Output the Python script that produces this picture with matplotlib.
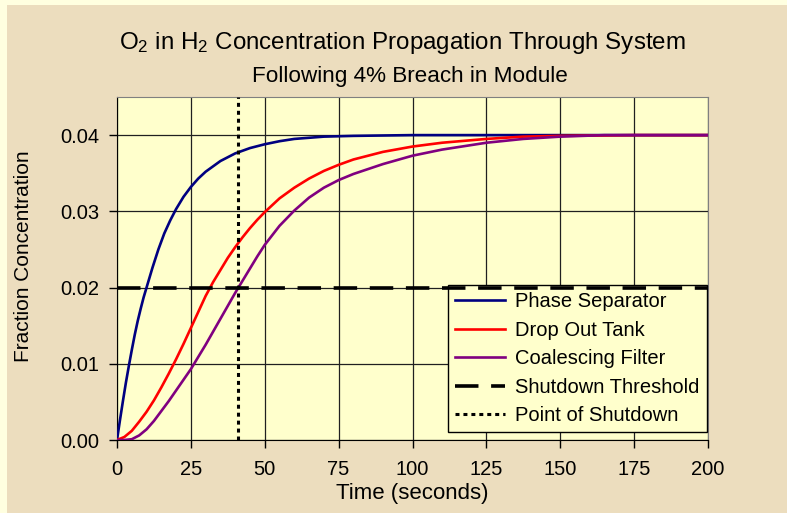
import matplotlib
matplotlib.use("Agg")
import matplotlib.pyplot as plt
from matplotlib.patches import Rectangle

plt.rcParams['font.family'] = ['Liberation Sans', 'DejaVu Sans']
plt.rcParams['mathtext.fontset'] = 'custom'
plt.rcParams['mathtext.rm'] = 'Liberation Sans'
plt.rcParams['mathtext.it'] = 'Liberation Sans'

# values
t_sep = [0, 1, 2, 3, 4, 5, 6, 7, 8, 9, 10, 12, 14, 16, 18, 20, 22.5, 25, 27.5, 30, 35, 40,
         45, 50, 55, 60, 70, 80, 100, 200]
phase_sep = [0, 0.0026, 0.0051, 0.0075, 0.0097, 0.0118, 0.0138, 0.0156, 0.0172, 0.0187, 0.0200,
             0.0226, 0.0250, 0.0271, 0.0288, 0.0303, 0.0319, 0.0332, 0.0343, 0.0352, 0.0366,
             0.0376, 0.0383, 0.0388, 0.0392, 0.0395, 0.0398, 0.0399, 0.0400, 0.0400]

t_tank = [0, 2.5, 5, 7.5, 10, 12.5, 15, 17.5, 20, 22.5, 25, 27.5, 30, 32.5, 35, 37.5, 40, 42.5,
          45, 47.5, 50, 55, 60, 65, 70, 75, 80, 90, 100, 110, 125, 137.5, 150, 175, 200]
drop_out_tank = [0, 0.0004, 0.0012, 0.0024, 0.0037, 0.0052, 0.0069, 0.0087, 0.0106, 0.0126,
                 0.0147, 0.0168, 0.0189, 0.0207, 0.0223, 0.0239, 0.0253, 0.0266, 0.0278, 0.0289,
                 0.0299, 0.0317, 0.0331, 0.0343, 0.0353, 0.0361, 0.0368, 0.0378, 0.0385, 0.0390,
                 0.0395, 0.0398, 0.0399, 0.0400, 0.0400]

t_filter = [0, 2.5, 5, 7.5, 10, 12.5, 15, 17.5, 20, 22.5, 25, 27.5, 30, 32.5, 35, 37.5, 40,
            42.5, 45, 47.5, 50, 55, 60, 65, 70, 75, 80, 90, 100, 110, 125, 137.5, 150, 165, 200]
coalescing = [0, 0, 0.0001, 0.0006, 0.0014, 0.0025, 0.0038, 0.0051, 0.0065, 0.0079, 0.0093,
              0.0109, 0.0125, 0.0142, 0.0159, 0.0176, 0.0193, 0.0209, 0.0225, 0.0241, 0.0256,
              0.0281, 0.0301, 0.0318, 0.0331, 0.0341, 0.0349, 0.0362, 0.0373, 0.0381, 0.0390,
              0.0395, 0.0398, 0.0400, 0.0400]

threshold_x = [0, 200]
threshold_y = [0.02, 0.02]
shutdown_x = [41, 41]
shutdown_y = [0, 0.045]

x_ticks = [0, 25, 50, 75, 100, 125, 150, 175, 200]
y_ticks = [0.00, 0.01, 0.02, 0.03, 0.04]

fig = plt.figure(figsize=(7.87, 5.13), dpi=100, facecolor='#FFFFE0')
# parchment background, behind the axes
fig.patches.append(Rectangle((7 / 787, 0), 1, 1 - 5 / 513, transform=fig.transFigure,
                             facecolor='#ECDDBE', edgecolor='none', zorder=-1))

ax = fig.add_axes([117 / 787, 1 - 440 / 513, 591 / 787, 343 / 513])
ax.set_facecolor('#FFFFCC')

ax.plot(t_sep, phase_sep, color='#000080', lw=1.9, label='Phase Separator', zorder=3)
ax.plot(t_tank, drop_out_tank, color='#FF0000', lw=1.9, label='Drop Out Tank', zorder=3)
ax.plot(t_filter, coalescing, color='#800080', lw=1.9, label='Coalescing Filter', zorder=3)
# threshold sits just above the legend box, so draw it over the legend frame
ax.plot(threshold_x, threshold_y, color='black', lw=2.6, dashes=(6.5, 3.5),
        label='Shutdown Threshold', zorder=6)
ax.plot(shutdown_x, shutdown_y, color='black', lw=2.2, dashes=(1.3, 1.3),
        label='Point of Shutdown', zorder=4)

ax.set_xlim(0, 200)
ax.set_ylim(0, 0.045)
ax.set_xticks(x_ticks)
ax.set_yticks(y_ticks)
ax.set_yticklabels([f'{v:.2f}' for v in y_ticks])
ax.grid(True, color='#202020', lw=0.9)
ax.set_axisbelow(True)
ax.tick_params(direction='out', length=5.5, width=1, labelsize=14.5, pad=7)
ax.tick_params(axis='x', pad=9)

for side in ['top', 'right']:
    ax.spines[side].set_color('#808080')
for side in ['left', 'bottom']:
    ax.spines[side].set_color('black')

ax.set_xlabel('Time (seconds)', fontsize=16, labelpad=3)
ax.set_ylabel('Fraction Concentration', fontsize=15)
ax.yaxis.set_label_coords(-0.142, 0.536)

fig.text(0.511, 1 - 49 / 513, r'O$_2$ in H$_2$ Concentration Propagation Through System',
         ha='center', va='baseline', fontsize=17.4)
fig.text(0.521, 1 - 82 / 513, 'Following 4% Breach in Module',
         ha='center', va='baseline', fontsize=16.2)

leg = ax.legend(loc='lower right', bbox_to_anchor=(0.998, 0.023), fontsize=14.5,
                frameon=True, fancybox=False, framealpha=1, facecolor='#FFFFCC',
                edgecolor='black', handlelength=2.5, labelspacing=0.47,
                borderpad=0.35, handletextpad=0.5, borderaxespad=0)
leg.get_frame().set_linewidth(1)
leg.set_zorder(5)

fig.savefig('out.png', dpi=100, facecolor=fig.get_facecolor())
